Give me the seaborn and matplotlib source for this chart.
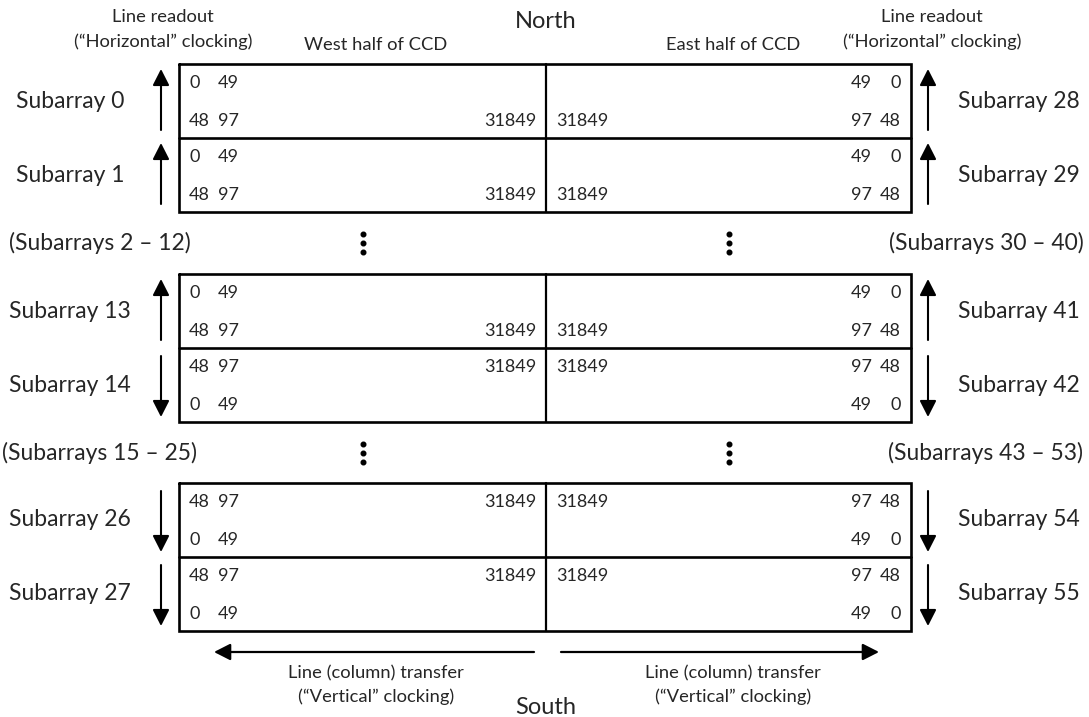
import matplotlib
matplotlib.use("Agg")
import matplotlib.pyplot as plt
import seaborn as sns

# subarray names per row, west (left) and east (right) halves
west_labels = ["Subarray 0", "Subarray 1", "Subarray 13", "Subarray 14", "Subarray 26", "Subarray 27"]
east_labels = ["Subarray 28", "Subarray 29", "Subarray 41", "Subarray 42", "Subarray 54", "Subarray 55"]
readout = ["up", "up", "up", "down", "down", "down"]
gap_west = ["(Subarrays 2 \u2013 12)", "(Subarrays 15 \u2013 25)"]
gap_east = ["(Subarrays 30 \u2013 40)", "(Subarrays 43 \u2013 53)"]

# pixel index labels
first_line = ["0", "49"]
last_line = ["48", "97"]
last_col = "31849"

sns.set_theme(style="white")
plt.rcParams["font.family"] = ["Lato", "DejaVu Sans"]

fig = plt.figure(figsize=(10.89, 7.17), dpi=100)
ax = fig.add_axes([0, 0, 1, 1])
ax.set_xlim(0, 1089)
ax.set_ylim(717, 0)
ax.axis("off")

x0, xm, x1 = 179, 546, 911
group_tops = [64, 274, 483]
row_h = 74
lw_box = 1.9
num_fs = 13
lab_fs = 16.5
small_fs = 13.2


def arrow(ax, tail, tip, lw=1.5):
    ax.annotate("", xy=tip, xytext=tail,
                arrowprops=dict(arrowstyle="-|>,head_length=0.55,head_width=0.28",
                                lw=lw, color="black", mutation_scale=18,
                                shrinkA=0, shrinkB=0))


def index_line(ax, y, kind):
    if kind == "first":
        ax.text(189, y, first_line[0], fontsize=num_fs, va="center", ha="left")
        ax.text(218, y, first_line[1], fontsize=num_fs, va="center", ha="left")
        ax.text(872, y, first_line[1], fontsize=num_fs, va="center", ha="right")
        ax.text(901, y, first_line[0], fontsize=num_fs, va="center", ha="right")
    else:
        ax.text(189, y, last_line[0], fontsize=num_fs, va="center", ha="left")
        ax.text(218, y, last_line[1], fontsize=num_fs, va="center", ha="left")
        ax.text(536, y, last_col, fontsize=num_fs, va="center", ha="right")
        ax.text(556, y, last_col, fontsize=num_fs, va="center", ha="left")
        ax.text(872, y, last_line[1], fontsize=num_fs, va="center", ha="right")
        ax.text(901, y, last_line[0], fontsize=num_fs, va="center", ha="right")


row = 0
for g, top in enumerate(group_tops):
    bottom = top + 2 * row_h
    ax.plot([x0, x1, x1, x0, x0], [top, top, bottom, bottom, top], color="black", lw=lw_box,
            solid_joinstyle="miter")
    ax.plot([x0, x1], [top + row_h, top + row_h], color="black", lw=lw_box)
    ax.plot([xm, xm], [top, bottom], color="black", lw=1.6)
    for r in range(2):
        t = top + r * row_h
        yc = t + row_h / 2
        ax.text(70, yc, west_labels[row], fontsize=lab_fs, ha="center", va="center")
        ax.text(1019, yc, east_labels[row], fontsize=lab_fs, ha="center", va="center")
        if readout[row] == "up":
            index_line(ax, t + 19, "first")
            index_line(ax, t + 57, "last")
            for ax_x in (161, 928):
                arrow(ax, (ax_x, t + 66), (ax_x, t + 5))
        else:
            index_line(ax, t + 19, "last")
            index_line(ax, t + 57, "first")
            for ax_x in (161, 928):
                arrow(ax, (ax_x, t + 8), (ax_x, t + 69))
        row += 1

# gaps between groups: skipped subarrays and vertical ellipses
for i in range(2):
    yc = (group_tops[i] + 2 * row_h + group_tops[i + 1]) / 2
    ax.text(100, yc, gap_west[i], fontsize=lab_fs, ha="center", va="center")
    ax.text(986, yc, gap_east[i], fontsize=lab_fs, ha="center", va="center")
    for dx in (363, 729):
        ax.scatter([dx, dx, dx], [yc - 9, yc, yc + 9], s=11, color="black", zorder=3)

# headings
ax.text(546, 22, "North", fontsize=17, ha="center", va="center")
ax.text(546, 707, "South", fontsize=17, ha="center", va="center")
for cx in (163, 932):
    ax.text(cx, 17, "Line readout", fontsize=small_fs, ha="center", va="center")
    ax.text(cx, 42, "(\u201cHorizontal\u201d clocking)", fontsize=small_fs, ha="center", va="center")
ax.text(376, 45, "West half of CCD", fontsize=small_fs, ha="center", va="center")
ax.text(733, 45, "East half of CCD", fontsize=small_fs, ha="center", va="center")

# bottom transfer arrows
arrow(ax, (534, 652), (214, 652), lw=1.6)
arrow(ax, (561, 652), (879, 652), lw=1.6)
for cx in (376, 733):
    ax.text(cx, 673, "Line (column) transfer", fontsize=small_fs, ha="center", va="center")
    ax.text(cx, 697, "(\u201cVertical\u201d clocking)", fontsize=small_fs, ha="center", va="center")

fig.savefig("out.png", dpi=100)
